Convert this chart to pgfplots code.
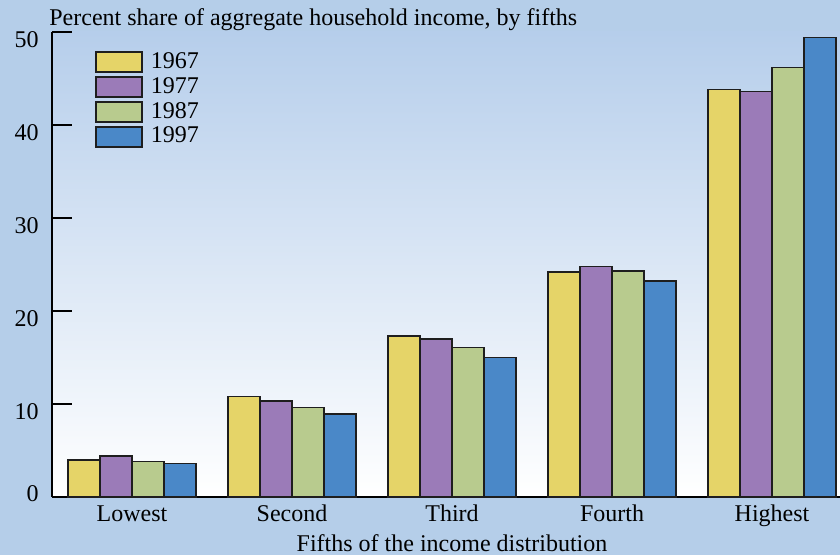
\documentclass[border=0pt]{standalone}
\usepackage{pgfplots}
\pgfplotsset{compat=1.18}
\usepackage{fontspec}
\setmainfont{Liberation Serif}
\definecolor{bgblue}{RGB}{181,206,233}
\definecolor{topblue}{RGB}{182,206,235}
\definecolor{cyel}{RGB}{229,212,104}
\definecolor{cpur}{RGB}{155,123,184}
\definecolor{cgrn}{RGB}{184,203,142}
\definecolor{cblu}{RGB}{74,136,200}
\definecolor{edge}{RGB}{30,30,30}
\newcommand{\chartfont}{\rmfamily\fontsize{12}{14}\selectfont}
\pgfplotsset{
  mybar/.style={ybar, bar width=0.2, draw=edge, line width=0.75pt,
    legend image code/.code={\draw[##1, line width=0.75pt] (0pt,-5pt) rectangle (23pt,5pt);}},
}
\begin{document}
\chartfont
\begin{tikzpicture}[font=\chartfont]
\fill[bgblue] (-26pt,-29pt) rectangle (394pt,248.5pt);
\begin{axis}[
  scale only axis, width=394pt, height=232.5pt,
  at={(0,0)}, anchor=south west,
  xmin=-0.5, xmax=4.425, ymin=0, ymax=50,
  axis x line*=bottom, axis y line*=left,
  axis line style={line width=0.9pt, black},
  axis background/.style={shade, top color=topblue, bottom color=white},
  clip=false,
  /pgf/number format/assume math mode=true,
  tick label style={font=\chartfont},
  xtick={0,1,2,3,4},
  xticklabels={Lowest,Second,Third,Fourth,Highest},
  xtick style={draw=none},
  xticklabel style={anchor=base, yshift=-12.5pt, inner sep=0pt},
  ytick={10,20,30,40,50},
  tick align=inside,
  major tick length=10pt,
  ytick style={line width=0.9pt, black},
  yticklabel style={anchor=east, inner sep=0pt, xshift=-6.5pt, yshift=-3.8pt},
  extra y ticks={0},
  extra y tick style={major tick length=0pt, yticklabel style={yshift=5.3pt}},
  legend style={at={(0.0546,0.9590)}, anchor=north west, draw=none, fill=none,
    font=\chartfont,
    row sep=1.7pt, column sep=4pt, inner sep=0pt,
    nodes={inner sep=0pt, text height=8pt, text depth=2pt},
    cells={anchor=west}},
]
\addplot[mybar, bar shift=-0.3, fill=cyel] coordinates {(0,4.0) (1,10.8) (2,17.3) (3,24.2) (4,43.8)};
\addlegendentry{1967}
\addplot[mybar, bar shift=-0.1, fill=cpur] coordinates {(0,4.4) (1,10.3) (2,17.0) (3,24.8) (4,43.6)};
\addlegendentry{1977}
\addplot[mybar, bar shift=0.1, fill=cgrn] coordinates {(0,3.8) (1,9.6) (2,16.1) (3,24.3) (4,46.2)};
\addlegendentry{1987}
\addplot[mybar, bar shift=0.3, fill=cblu] coordinates {(0,3.6) (1,8.9) (2,15.0) (3,23.2) (4,49.4)};
\addlegendentry{1997}
\node[anchor=base west, inner sep=0pt, xshift=-1.5pt, yshift=3.2pt] at (rel axis cs:0,1) {Percent share of aggregate household income, by fifths};
\node[anchor=base, inner sep=0pt, yshift=-27.5pt] at (axis cs:2,0) {Fifths of the income distribution};
\end{axis}
\pgfresetboundingbox
\useasboundingbox (-26pt,-29pt) rectangle (394pt,248.5pt);
\end{tikzpicture}
\end{document}
